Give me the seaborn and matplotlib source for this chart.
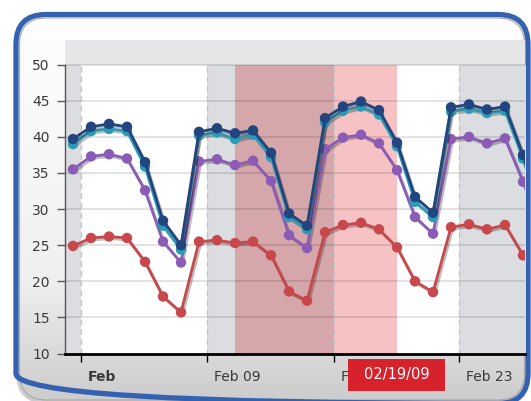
import numpy as np
import pandas as pd
import matplotlib
matplotlib.use("Agg")
import matplotlib.pyplot as plt
import matplotlib.patheffects as pe
import matplotlib.transforms as mtransforms
from matplotlib.patches import FancyBboxPatch, Rectangle
import seaborn as sns

# ---------------- data ----------------
days = list(range(27))
navy = [39.7, 41.4, 41.8, 41.4, 36.5, 28.4, 25.0,
        40.7, 41.2, 40.5, 40.9, 37.8, 29.4, 27.7,
        42.6, 44.2, 44.9, 43.7, 39.2, 31.7, 29.5,
        44.1, 44.5, 43.8, 44.2, 37.5, 29.7]
teal = [39.0, 40.8, 41.1, 40.8, 35.9, 27.7, 24.4,
        40.2, 40.6, 39.7, 40.3, 37.2, 28.9, 27.2,
        42.0, 43.6, 44.2, 43.1, 38.7, 31.0, 28.9,
        43.5, 43.9, 43.3, 43.6, 37.0, 29.0]
purple = [35.5, 37.3, 37.6, 37.0, 32.6, 25.5, 22.6,
          36.6, 36.9, 36.1, 36.7, 33.9, 26.4, 24.6,
          38.3, 39.9, 40.3, 39.1, 35.4, 28.9, 26.6,
          39.7, 40.0, 39.1, 39.8, 33.8, 27.0]
red = [24.9, 26.0, 26.2, 26.0, 22.7, 17.9, 15.7,
       25.5, 25.7, 25.3, 25.5, 23.6, 18.6, 17.3,
       26.8, 27.8, 28.1, 27.2, 24.7, 20.0, 18.5,
       27.5, 27.9, 27.2, 27.8, 23.6, 20.0]

series_names = ["red", "purple", "teal", "navy"]
series_colors = ["#c8474b", "#8b5cb6", "#2b9cb6", "#22457f"]

tick_pos = [0.44, 7.44, 14.5, 21.44]
tick_labels = ["Feb", "Feb 09", "Feb 16", "Feb 23"]

band_start = [-0.45, 7.44, 9.0, 14.5, 21.44]
band_end = [0.44, 9.0, 14.5, 18.0, 26.0]
band_color = ["#dcdde0", "#dcdde0", "#d6a7aa", "#f6c2c4", "#dcdde0"]

y_ticks = [10, 15, 20, 25, 30, 35, 40, 45, 50]
highlight_label = "02/19/09"

df = pd.DataFrame({
    "day": days * 4,
    "value": red + purple + teal + navy,
    "series": (["red"] * 27 + ["purple"] * 27 + ["teal"] * 27 + ["navy"] * 27),
})

# ---------------- figure ----------------
W, H = 531, 401
fig = plt.figure(figsize=(W / 100, H / 100), dpi=100)
fig.patch.set_facecolor("white")

# background frame (pixel coordinates)
bg = fig.add_axes([0, 0, 1, 1], zorder=-5)
bg.set_xlim(0, W)
bg.set_ylim(H, 0)
bg.axis("off")
grad = np.ones((200, 1, 3))
yy = np.linspace(0, 1, 200)
for i, t in enumerate(yy):
    if t < 0.7:
        v = 1.0 - 0.06 * (t / 0.7)
    else:
        v = 0.94 - 0.14 * ((t - 0.7) / 0.3)
    grad[i, 0, :] = v
fx, fy, fw, fh = 16.0, 14.5, 512.0, 389.0
frame = FancyBboxPatch((fx, fy), fw, fh,
                       boxstyle="round,pad=0,rounding_size=30",
                       facecolor="none", edgecolor="#3561b1", linewidth=3.8,
                       zorder=3)
clip = FancyBboxPatch((fx, fy), fw, fh,
                      boxstyle="round,pad=0,rounding_size=30",
                      facecolor="none", edgecolor="none")
bg.add_patch(clip)
im = bg.imshow(grad, extent=[0, W, H, 0], aspect="auto", zorder=1)
im.set_clip_path(clip)
inner = FancyBboxPatch((fx + 3.5, fy + 3.5), fw - 7, fh - 7,
                       boxstyle="round,pad=0,rounding_size=27",
                       facecolor="none", edgecolor="#a8a8a8", linewidth=0.8,
                       zorder=2)
bg.add_patch(inner)
bg.add_patch(frame)

# main axes
ax = fig.add_axes([65 / W, 1 - 353.5 / H, 460 / W, (353.5 - 40) / H])
ax.set_facecolor("white")
ax.set_xlim(-0.445, 25.11)
ax.set_ylim(10, 53.42)

for s, e, c in zip(band_start, band_end, band_color):
    ax.fill_between([s, e], 10, 50, color=c, linewidth=0, zorder=0)
ax.axhspan(50, 53.42, color="#e6e6e8", linewidth=0, zorder=0)

for yv in y_ticks[1:]:
    ax.axhline(yv, color="black", alpha=0.13, linewidth=1.2, zorder=1)
ax.vlines(tick_pos, 10, 50, colors="#c4c4c4", linestyles=(0, (4, 3)),
          linewidth=1.0, zorder=1)

n_before = len(ax.lines)
sns.lineplot(data=df, x="day", y="value", hue="series",
             hue_order=series_names, palette=series_colors,
             marker="o", markersize=7.5, markeredgewidth=0,
             linewidth=2.0, legend=False, ax=ax, zorder=3)
for line in ax.lines[n_before:]:
    line.set_path_effects([pe.SimpleLineShadow(offset=(1.2, -1.5), alpha=0.25),
                           pe.Normal()])

# spines
for sp in ["top", "right"]:
    ax.spines[sp].set_visible(False)
ax.spines["left"].set_bounds(10, 50)
ax.spines["left"].set_color("#555555")
ax.spines["left"].set_linewidth(1.0)
ax.spines["bottom"].set_color("black")
ax.spines["bottom"].set_linewidth(2.0)

ax.set_yticks(y_ticks)
ax.set_yticklabels([str(v) for v in y_ticks])
ax.tick_params(axis="y", length=6, width=1, color="#555555", pad=5,
               labelsize=10, labelcolor="#3a3a3a")
ax.set_xticks(tick_pos)
ax.set_xticklabels(tick_labels)
ax.tick_params(axis="x", length=6, width=1, color="black", pad=6,
               labelsize=10, labelcolor="#3a3a3a")
offset = mtransforms.ScaledTranslation(7 / 100, 0, fig.dpi_scale_trans)
for i, lab in enumerate(ax.get_xticklabels()):
    lab.set_horizontalalignment("left")
    lab.set_transform(lab.get_transform() + offset)
    if i == 0:
        lab.set_fontweight("bold")
ax.set_xlabel("")
ax.set_ylabel("")

# highlighted date label
fig.patches.append(Rectangle((348 / W, 1 - 391 / H), 97 / W, 32 / H,
                             transform=fig.transFigure, facecolor="#d7212b",
                             edgecolor="none", zorder=10))
fig.text(396.5 / W, 1 - 375 / H, highlight_label, color="white", fontsize=10.5,
         ha="center", va="center", zorder=11)

fig.savefig("out.png", dpi=100)
